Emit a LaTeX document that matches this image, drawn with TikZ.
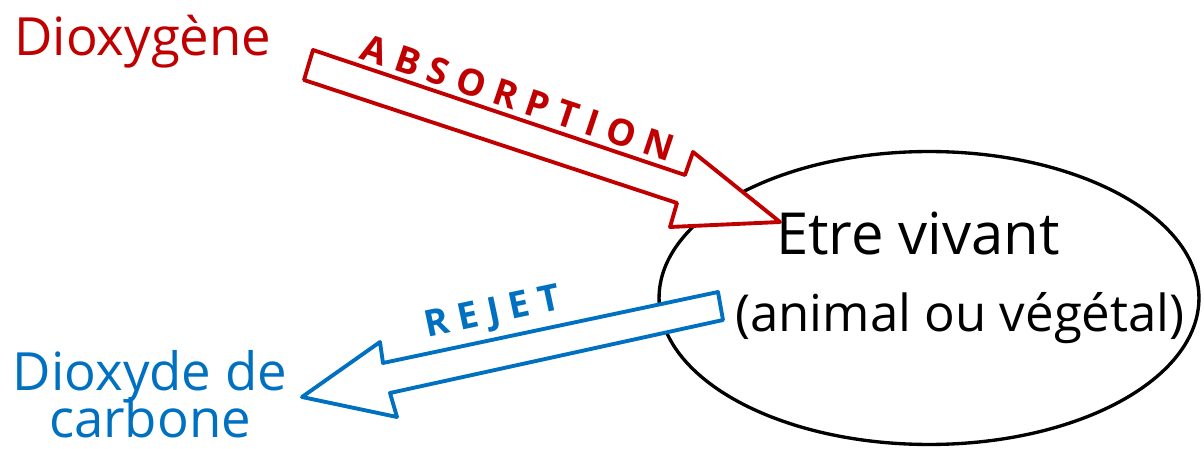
\documentclass[tikz,border=0pt]{standalone}
\usepackage{fontspec}
\setmainfont{Open Sans}
\usetikzlibrary{shapes.geometric}
\definecolor{rouge}{RGB}{192,0,0}
\definecolor{bleu}{RGB}{0,112,192}
\begin{document}
\begin{tikzpicture}[x=0.02cm,y=-0.02cm,
  blockarrow/.style={line width=2.2pt, line join=round, fill=white},
  lbl/.style={inner sep=0pt, font=\fontsize{30}{32}\selectfont},
  caps/.style={inner sep=0pt, font=\bfseries\fontsize{21}{24}\selectfont}]
\useasboundingbox (0,0) rectangle (1204,449);
% living being
\node[draw, line width=1.9pt, ellipse, minimum width=10.8cm, minimum height=5.86cm, inner sep=0pt] (etre) at (929,298) {};
% red absorption arrow
\draw[blockarrow, draw=rouge] (313,50) -- (685,175) -- (693,152) -- (780,222) -- (670,227) -- (677,203) -- (304,80) -- cycle;
% blue rejet arrow
\draw[blockarrow, draw=bleu] (718,292) -- (723,320) -- (390,393) -- (397,417) -- (302,397) -- (380,342) -- (383,363) -- cycle;
% texts
\node[lbl, text=rouge, anchor=west] (o2) at (14,42) {Dioxygène};
\node[caps, text=rouge, rotate=-18.5] (abs) at (518,98) {A B S O R P T I O N};
\node[caps, text=bleu, rotate=12] (rej) at (493,314) {R E J E T};
\node[lbl, text=bleu, align=center] (co2) at (150,394) {Dioxyde de\\[-5pt]carbone};
\node[inner sep=0pt, font=\fontsize{33}{36}\selectfont] (t1) at (918,234) {Etre vivant};
\node[inner sep=0pt, font=\fontsize{29}{32}\selectfont] (t2) at (960,318) {(animal ou végétal)};
\end{tikzpicture}
\end{document}
